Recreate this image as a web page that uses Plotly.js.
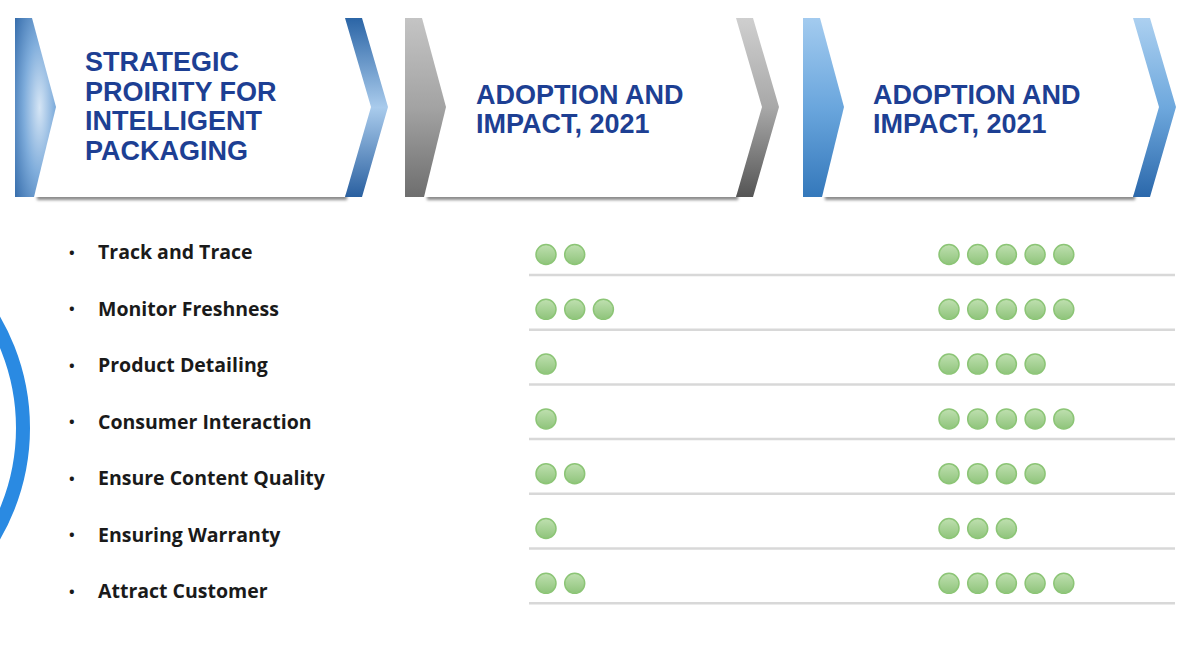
<!DOCTYPE html>
<html>
<head>
<meta charset="utf-8">
<script src="https://cdn.plot.ly/plotly-3.0.1.min.js"></script>
<style>html,body{margin:0;padding:0;background:#fff;}#chart{width:1200px;height:648px;}</style>
</head>
<body>
<div id="chart"></div>
<script>
// ---- data ----
const categories = ['Track and Trace','Monitor Freshness','Product Detailing','Consumer Interaction','Ensure Content Quality','Ensuring Warranty','Attract Customer'];
const adoptionScore = [2,3,1,1,2,1,2];
const impactScore = [5,5,4,5,4,3,5];
const header1 = ['STRATEGIC','PROIRITY FOR','INTELLIGENT','PACKAGING'];
const header2 = ['ADOPTION AND','IMPACT, 2021'];
const header3 = ['ADOPTION AND','IMPACT, 2021'];

// ---- layout helpers ----
const headers = [header1, header2, header3];
const headerX = [83, 474, 871];
const headerY0 = [62, 94.5, 94.5];
const headerStep = 29.7;
const labelY = i => 251.5 + i*56.5;
const dotY = i => 254.5 + i*54.8;
const sepY = i => 275 + i*54.7;
const dotStep = 28.7;
const adoptX0 = 546, impactX0 = 949;

function dotsFor(scores, x0){
  const xs=[], ys=[], tx=[];
  scores.forEach((s,i)=>{ for(let k=0;k<s;k++){ xs.push(x0+k*dotStep); ys.push(dotY(i)); tx.push(categories[i]+': '+s);} });
  return {xs, ys, tx};
}
const a = dotsFor(adoptionScore, adoptX0);
const b = dotsFor(impactScore, impactX0);
const dotMarker = {symbol:'circle', size:20, color:'#bfe0b0', gradient:{type:'vertical', color:'#8fc47b'}, line:{color:'#8cc576', width:1.5}};

const traces = [
  {type:'scatter', mode:'markers', x:a.xs, y:a.ys, text:a.tx, hoverinfo:'text', marker:dotMarker, showlegend:false},
  {type:'scatter', mode:'markers', x:b.xs, y:b.ys, text:b.tx, hoverinfo:'text', marker:dotMarker, showlegend:false}
];

// ---- decorative chevrons (SVG background) ----
function chevron(lx, rx, lg, rg){
  const top=18, bot=197, mid=107, bw=17, pt=24, rpt=26;
  const leftBand = `${lx},${top} ${lx+bw},${top} ${lx+bw+pt},${mid} ${lx+bw+2},${bot} ${lx},${bot}`;
  const body = `${lx+bw},${top} ${rx},${top} ${rx+rpt},${mid} ${rx},${bot} ${lx+bw+2},${bot} ${lx+bw+pt},${mid}`;
  const rightBand = `${rx},${top} ${rx+bw},${top} ${rx+bw+rpt},${mid} ${rx+bw},${bot} ${rx},${bot} ${rx+rpt},${mid}`;
  return `<rect x='${lx+22}' y='194' width='${rx-lx-20}' height='6' fill='#8a8a8a' filter='url(#sh)'/>`+
    `<polygon points='${body}' fill='#ffffff'/>`+
    `<polygon points='${leftBand}' fill='url(#${lg})'/>`+
    `<polygon points='${rightBand}' fill='url(#${rg})'/>`;
}
const svg = `<svg xmlns='http://www.w3.org/2000/svg' width='1200' height='648' viewBox='0 0 1200 648'>
<defs>
<filter id='sh' x='-5%' y='-100%' width='110%' height='300%'><feGaussianBlur stdDeviation='1.6'/></filter>
<radialGradient id='l1' cx='0.6' cy='0.5' r='0.85'><stop offset='0' stop-color='#d5e5f5'/><stop offset='0.45' stop-color='#7eacdb'/><stop offset='1' stop-color='#2a62a3'/></radialGradient>
<linearGradient id='r1' x1='0' y1='0' x2='0' y2='1'><stop offset='0' stop-color='#2b65a6'/><stop offset='0.5' stop-color='#a9cbec'/><stop offset='1' stop-color='#2a60a0'/></linearGradient>
<linearGradient id='l2' x1='0' y1='0' x2='0' y2='1'><stop offset='0' stop-color='#c4c4c4'/><stop offset='0.5' stop-color='#a3a3a3'/><stop offset='1' stop-color='#6e6e6e'/></linearGradient>
<linearGradient id='r2' x1='0' y1='0' x2='0' y2='1'><stop offset='0' stop-color='#cfcfcf'/><stop offset='0.5' stop-color='#a8a8a8'/><stop offset='1' stop-color='#555555'/></linearGradient>
<linearGradient id='l3' x1='0' y1='0' x2='0' y2='1'><stop offset='0' stop-color='#a3cbef'/><stop offset='0.5' stop-color='#6aa6dd'/><stop offset='1' stop-color='#3478bb'/></linearGradient>
<linearGradient id='r3' x1='0' y1='0' x2='0' y2='1'><stop offset='0' stop-color='#acd0f0'/><stop offset='0.5' stop-color='#6ea8dd'/><stop offset='1' stop-color='#2b68ab'/></linearGradient>
</defs>
${chevron(15,345,'l1','r1')}
${chevron(405,736,'l2','r2')}
${chevron(803,1133,'l3','r3')}
</svg>`;

// ---- annotations ----
const annotations = [];
headers.forEach((lines,h)=>{
  lines.forEach((t,j)=>{
    annotations.push({x:headerX[h], y:headerY0[h]+j*headerStep, xref:'x', yref:'y', text:t, showarrow:false,
      xanchor:'left', yanchor:'middle', font:{family:'Liberation Sans, Arial, sans-serif', size:27, color:'#1d3f93', weight:'bold'}});
  });
});
categories.forEach((c,i)=>{
  annotations.push({x:72, y:labelY(i), xref:'x', yref:'y', text:'•', showarrow:false, xanchor:'center', yanchor:'middle',
    font:{family:'Open Sans, sans-serif', size:15, color:'#1a1a1a', weight:'bold'}});
  annotations.push({x:96, y:labelY(i), xref:'x', yref:'y', text:c, showarrow:false, xanchor:'left', yanchor:'middle',
    font:{family:'Open Sans, sans-serif', size:19.5, color:'#1a1a1a', weight:'bold'}});
});

// ---- shapes ----
const shapes = [];
categories.forEach((c,i)=>{
  shapes.push({type:'line', xref:'x', yref:'y', x0:529, x1:1175, y0:sepY(i), y1:sepY(i), line:{color:'#d8d8d8', width:2.5}, layer:'below'});
});
const ringCx=-192, ringCy=428, ringR=215;
shapes.push({type:'circle', xref:'x', yref:'y', x0:ringCx-ringR, x1:ringCx+ringR, y0:ringCy-ringR, y1:ringCy+ringR, line:{color:'#2a8ae2', width:14}, fillcolor:'rgba(0,0,0,0)'});

const layout = {
  width:1200, height:648, margin:{l:0,r:0,t:0,b:0},
  paper_bgcolor:'#ffffff', plot_bgcolor:'#ffffff',
  xaxis:{range:[0,1200], visible:false, fixedrange:true},
  yaxis:{range:[648,0], visible:false, fixedrange:true},
  showlegend:false,
  annotations, shapes,
  images:[{source:'data:image/svg+xml;charset=utf-8,'+encodeURIComponent(svg), xref:'paper', yref:'paper', x:0, y:1, sizex:1, sizey:1, xanchor:'left', yanchor:'top', sizing:'stretch', layer:'below'}]
};
Plotly.newPlot('chart', traces, layout, {displayModeBar:false, staticPlot:true});
</script>
</body>
</html>
